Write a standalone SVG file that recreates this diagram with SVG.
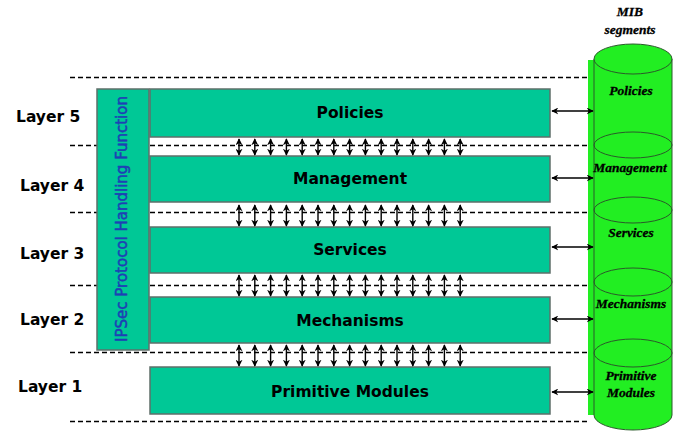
<svg xmlns="http://www.w3.org/2000/svg" width="680" height="431" viewBox="0 0 680 431">
<style>
.dash{stroke:#000;stroke-width:1.3;stroke-dasharray:5 3;fill:none}
.box{fill:#00C896;stroke:#5f6f6a;stroke-width:1.5}
.btxt{font-family:"DejaVu Sans",Verdana,sans-serif;font-weight:bold;font-size:15.5px;fill:#000;text-anchor:middle}
.ltxt{font-family:"DejaVu Sans",Verdana,sans-serif;font-weight:bold;font-size:15.5px;fill:#000}
.ctxt{font-family:"Liberation Serif","Times New Roman",serif;font-weight:bold;font-style:italic;font-size:13.5px;fill:#000;stroke:#000;stroke-width:0.3;text-anchor:middle}
.arr{stroke:#000;stroke-width:1.4;fill:none;marker-start:url(#ah);marker-end:url(#ah)}
.cyl{fill:#22EE22;stroke:#2a5a2a;stroke-width:1}
.seg{fill:none;stroke:#2a5a2a;stroke-width:1}
</style>
<defs>
<marker id="ah" viewBox="0 0 10 10" refX="9" refY="5" markerWidth="7" markerHeight="7" markerUnits="userSpaceOnUse" orient="auto-start-reverse">
<path d="M0,0 L10,5 L0,10 L3,5 Z" fill="#000"/>
</marker>
</defs>
<rect width="680" height="431" fill="#fff"/>

<g id="dashed-lines">
<line class="dash" x1="70" y1="77.5" x2="589" y2="77.5"/>
<line class="dash" x1="70" y1="145.5" x2="589" y2="145.5"/>
<line class="dash" x1="70" y1="212.5" x2="589" y2="212.5"/>
<line class="dash" x1="70" y1="285.5" x2="589" y2="285.5"/>
<line class="dash" x1="70" y1="352.5" x2="589" y2="352.5"/>
<line class="dash" x1="70" y1="421.5" x2="589" y2="421.5"/>
</g>

<g id="layer-labels">
<text class="ltxt" x="16" y="122">Layer 5</text>
<text class="ltxt" x="20" y="191">Layer 4</text>
<text class="ltxt" x="20" y="259">Layer 3</text>
<text class="ltxt" x="20" y="325">Layer 2</text>
<text class="ltxt" x="18" y="392">Layer 1</text>
</g>

<g id="ipsec">
<rect class="box" x="97" y="89" width="52" height="261"/>
<text transform="translate(127,219) rotate(-90)" text-anchor="middle" font-family="DejaVu Sans,Verdana,sans-serif" font-size="15" fill="#1f3fb5" stroke="#1f3fb5" stroke-width="0.5">IPSec Protocol Handling Function</text>
</g>

<g id="policies">
<rect class="box" x="150" y="89" width="400" height="48"/>
<text class="btxt" x="350" y="118">Policies</text>
</g>
<g id="management">
<rect class="box" x="150" y="156" width="400" height="46"/>
<text class="btxt" x="350" y="184">Management</text>
</g>
<g id="services">
<rect class="box" x="150" y="227" width="400" height="46"/>
<text class="btxt" x="350" y="255">Services</text>
</g>
<g id="mechanisms">
<rect class="box" x="150" y="297" width="400" height="46"/>
<text class="btxt" x="350" y="326">Mechanisms</text>
</g>
<g id="primitive-modules">
<rect class="box" x="150" y="367" width="400" height="47"/>
<text class="btxt" x="350" y="397">Primitive Modules</text>
</g>

<g id="mib">
<text class="ctxt" x="630" y="16">MIB</text>
<text class="ctxt" x="630" y="34">segments</text>
<rect x="588" y="60" width="8" height="355" fill="#22EE22"/>
<path class="cyl" d="M594,59 L594,415 A39,15 0 0 0 672,415 L672,59 Z"/>
<ellipse class="cyl" cx="633" cy="59" rx="39" ry="15"/>
<ellipse class="seg" cx="633" cy="145" rx="39" ry="13"/>
<ellipse class="seg" cx="633" cy="210" rx="39" ry="13"/>
<ellipse class="seg" cx="633" cy="282" rx="39" ry="14"/>
<ellipse class="seg" cx="633" cy="353" rx="39" ry="14"/>
<text class="ctxt" x="631" y="95">Policies</text>
<text class="ctxt" x="630" y="172">Management</text>
<text class="ctxt" x="631" y="237">Services</text>
<text class="ctxt" x="631" y="308">Mechanisms</text>
<text class="ctxt" x="631" y="380">Primitive</text>
<text class="ctxt" x="631" y="397">Modules</text>
</g>

<g id="connectors">
<g id="v1">
<line class="arr" x1="239" y1="139" x2="239" y2="155"/>
<line class="arr" x1="254.8" y1="139" x2="254.8" y2="155"/>
<line class="arr" x1="270.6" y1="139" x2="270.6" y2="155"/>
<line class="arr" x1="286.4" y1="139" x2="286.4" y2="155"/>
<line class="arr" x1="302.2" y1="139" x2="302.2" y2="155"/>
<line class="arr" x1="318" y1="139" x2="318" y2="155"/>
<line class="arr" x1="333.8" y1="139" x2="333.8" y2="155"/>
<line class="arr" x1="349.6" y1="139" x2="349.6" y2="155"/>
<line class="arr" x1="365.4" y1="139" x2="365.4" y2="155"/>
<line class="arr" x1="381.2" y1="139" x2="381.2" y2="155"/>
<line class="arr" x1="397" y1="139" x2="397" y2="155"/>
<line class="arr" x1="412.8" y1="139" x2="412.8" y2="155"/>
<line class="arr" x1="428.6" y1="139" x2="428.6" y2="155"/>
<line class="arr" x1="444.4" y1="139" x2="444.4" y2="155"/>
<line class="arr" x1="460.2" y1="139" x2="460.2" y2="155"/>
</g>
<g id="v2">
<line class="arr" x1="239" y1="205" x2="239" y2="226"/>
<line class="arr" x1="254.8" y1="205" x2="254.8" y2="226"/>
<line class="arr" x1="270.6" y1="205" x2="270.6" y2="226"/>
<line class="arr" x1="286.4" y1="205" x2="286.4" y2="226"/>
<line class="arr" x1="302.2" y1="205" x2="302.2" y2="226"/>
<line class="arr" x1="318" y1="205" x2="318" y2="226"/>
<line class="arr" x1="333.8" y1="205" x2="333.8" y2="226"/>
<line class="arr" x1="349.6" y1="205" x2="349.6" y2="226"/>
<line class="arr" x1="365.4" y1="205" x2="365.4" y2="226"/>
<line class="arr" x1="381.2" y1="205" x2="381.2" y2="226"/>
<line class="arr" x1="397" y1="205" x2="397" y2="226"/>
<line class="arr" x1="412.8" y1="205" x2="412.8" y2="226"/>
<line class="arr" x1="428.6" y1="205" x2="428.6" y2="226"/>
<line class="arr" x1="444.4" y1="205" x2="444.4" y2="226"/>
<line class="arr" x1="460.2" y1="205" x2="460.2" y2="226"/>
</g>
<g id="v3">
<line class="arr" x1="239" y1="275" x2="239" y2="296"/>
<line class="arr" x1="254.8" y1="275" x2="254.8" y2="296"/>
<line class="arr" x1="270.6" y1="275" x2="270.6" y2="296"/>
<line class="arr" x1="286.4" y1="275" x2="286.4" y2="296"/>
<line class="arr" x1="302.2" y1="275" x2="302.2" y2="296"/>
<line class="arr" x1="318" y1="275" x2="318" y2="296"/>
<line class="arr" x1="333.8" y1="275" x2="333.8" y2="296"/>
<line class="arr" x1="349.6" y1="275" x2="349.6" y2="296"/>
<line class="arr" x1="365.4" y1="275" x2="365.4" y2="296"/>
<line class="arr" x1="381.2" y1="275" x2="381.2" y2="296"/>
<line class="arr" x1="397" y1="275" x2="397" y2="296"/>
<line class="arr" x1="412.8" y1="275" x2="412.8" y2="296"/>
<line class="arr" x1="428.6" y1="275" x2="428.6" y2="296"/>
<line class="arr" x1="444.4" y1="275" x2="444.4" y2="296"/>
<line class="arr" x1="460.2" y1="275" x2="460.2" y2="296"/>
</g>
<g id="v4">
<line class="arr" x1="239" y1="345" x2="239" y2="366"/>
<line class="arr" x1="254.8" y1="345" x2="254.8" y2="366"/>
<line class="arr" x1="270.6" y1="345" x2="270.6" y2="366"/>
<line class="arr" x1="286.4" y1="345" x2="286.4" y2="366"/>
<line class="arr" x1="302.2" y1="345" x2="302.2" y2="366"/>
<line class="arr" x1="318" y1="345" x2="318" y2="366"/>
<line class="arr" x1="333.8" y1="345" x2="333.8" y2="366"/>
<line class="arr" x1="349.6" y1="345" x2="349.6" y2="366"/>
<line class="arr" x1="365.4" y1="345" x2="365.4" y2="366"/>
<line class="arr" x1="381.2" y1="345" x2="381.2" y2="366"/>
<line class="arr" x1="397" y1="345" x2="397" y2="366"/>
<line class="arr" x1="412.8" y1="345" x2="412.8" y2="366"/>
<line class="arr" x1="428.6" y1="345" x2="428.6" y2="366"/>
<line class="arr" x1="444.4" y1="345" x2="444.4" y2="366"/>
<line class="arr" x1="460.2" y1="345" x2="460.2" y2="366"/>
</g>
<g id="h-arrows">
<line class="arr" x1="552" y1="111" x2="593" y2="111"/>
<line class="arr" x1="552" y1="178" x2="593" y2="178"/>
<line class="arr" x1="552" y1="247" x2="593" y2="247"/>
<line class="arr" x1="552" y1="319" x2="593" y2="319"/>
<line class="arr" x1="552" y1="392" x2="593" y2="392"/>
</g>
</g>
</svg>
